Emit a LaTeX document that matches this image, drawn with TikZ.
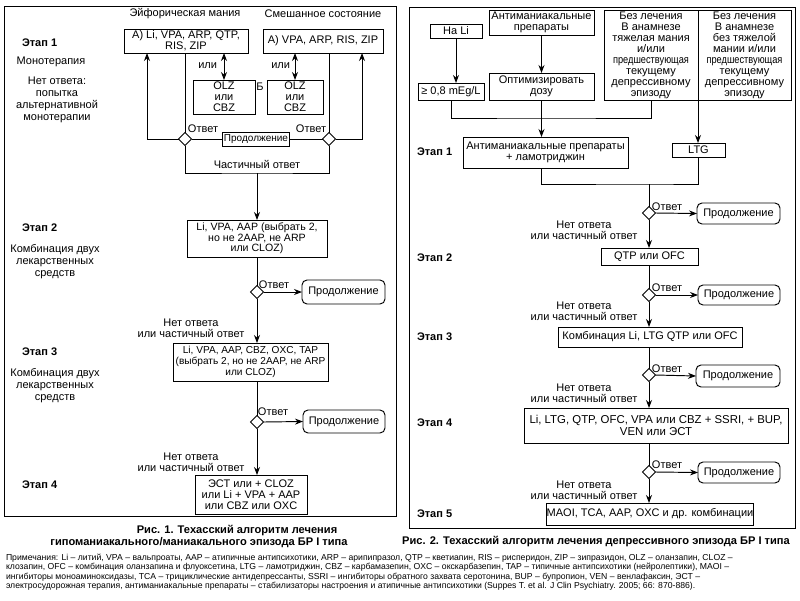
\documentclass[tikz,border=0pt]{standalone}
\usepackage{fontspec}
\setmainfont{Liberation Sans}
\usepackage{graphicx}
\usetikzlibrary{arrows.meta,shapes.geometric,calc}
\begin{document}
\begin{tikzpicture}[x=1pt,y=-1pt,line width=0.95pt,
  every node/.style={inner sep=0pt,outer sep=0pt},
  txt/.style={font=\fontsize{11}{11}\selectfont,align=center},
  box/.style={draw,rectangle,txt},
  cont/.style={draw,rounded corners=5pt,txt},
  dia/.style={draw,diamond,fill=white,minimum width=13pt,minimum height=13pt},
  stagel/.style={font=\bfseries\fontsize{11}{12}\selectfont,anchor=west},
  side/.style={font=\fontsize{11}{12}\selectfont,align=center},
  captxt/.style={font=\bfseries\fontsize{11.1}{11}\selectfont},
  arr/.style={-{Stealth[length=8pt,width=6pt]}},
  darr/.style={{Stealth[length=8pt,width=6pt]}-{Stealth[length=8pt,width=6pt]}},
]
\useasboundingbox[fill=white] (0,0) rectangle (800,600);

% ================= LEFT PANEL =================
\draw (4,6) rectangle (396,516);
\node[txt] (tEu) at (185,14) {Эйфорическая мания};
\node[txt] (tMx) at (323,14) {Смешанное состояние};
\node[box,minimum width=124,minimum height=24] (A1) at (186,41) {А) Li, VPA, ARP, QTP,\\RIS, ZIP};
\node[box,minimum width=120,minimum height=24] (A2) at (323,41) {А) VPA, ARP, RIS, ZIP};
\node[stagel] (e1L) at (22,43) {Этап 1};
\node[side] (mono) at (51,62) {Монотерапия};
\node[side] (noalt) at (57,100) {Нет ответа:\\попытка\\альтернативной\\монотерапии};
\node[box,minimum width=62,minimum height=34] (O1) at (224,97) {OLZ\\или\\CBZ};
\node[box,minimum width=56,minimum height=34] (O2) at (295,97) {OLZ\\или\\CBZ};
\node[txt] (Bl) at (260,87) {Б};
\draw[darr] (A1.south -| O1.north) -- (O1.north);
\draw[darr] (A2.south -| O2.north) -- (O2.north);
\node[txt,anchor=east] (or1) at (217,66) {или};
\node[txt,anchor=east] (or2) at (290,66) {или};

\node[dia] (dL) at (185,139) {};
\node[dia] (dR) at (329,139) {};
\node[box,minimum width=67,minimum height=14,font=\fontsize{10}{10}\selectfont] (c0) at (256,139) {Продолжение};
\node[txt] (ansL) at (203,129) {Ответ};
\node[txt] (ansR) at (311,129) {Ответ};
\draw (A1.south -| dL.north) -- (dL.north);
\draw (A2.south -| dR.north) -- (dR.north);
\draw (dL.east) -- (c0.west);
\draw (c0.east) -- (dR.west);
\coordinate (upL) at (147,139);
\coordinate (upR) at (362,139);
\draw[arr] (dL.west) -- (upL) -- (A1.south -| upL);
\draw[arr] (dR.east) -- (upR) -- (A2.south -| upR);
\coordinate (jL) at (257,173);
\draw (dL.south) |- (jL) -| (dR.south);
\node[txt] (part) at (257,164) {Частичный ответ};

\node[box,minimum width=140,minimum height=37,font=\fontsize{10.6}{10.6}\selectfont] (S2L) at (257,238.5) {Li, VPA, AAP (выбрать 2,\\но не 2AAP, не ARP\\или CLOZ)};
\draw[arr] (jL) -- (S2L.north);
\node[stagel] (e2L) at (22,228) {Этап 2};
\node[side] (comb2) at (55,262) {Комбинация двух\\лекарственных\\средств};
\node[dia] (d2L) at (257,292) {};
\draw (S2L.south) -- (d2L.north);
\node[txt] (ans2L) at (274,285) {Ответ};
\node[cont,minimum width=83,minimum height=24] (c2L) at (343.5,292) {Продолжение};
\draw[arr] (d2L.east) -- (c2L.west);
\node[txt] (nr2L) at (191,328) {Нет ответа\\или частичный ответ};

\node[box,minimum width=155,minimum height=38,font=\fontsize{10.1}{11}\selectfont] (S3L) at (250.5,362) {Li, VPA, AAP, CBZ, OXC, TAP\\(выбрать 2, но не 2AAP, не ARP\\или CLOZ)};
\draw[arr] (d2L.south) -- (S3L.north -| d2L.south);
\node[stagel] (e3L) at (22,352) {Этап 3};
\node[side] (comb3) at (55,386) {Комбинация двух\\лекарственных\\средств};
\node[dia] (d3L) at (257,422) {};
\draw (S3L.south -| d3L.north) -- (d3L.north);
\node[txt] (ans3L) at (273,412) {Ответ};
\node[cont,minimum width=82,minimum height=23] (c3L) at (344,421.5) {Продолжение};
\draw[arr] (d3L.east) -- (c3L.west);
\node[txt] (nr3L) at (191,462) {Нет ответа\\или частичный ответ};

\node[box,minimum width=112,minimum height=39] (S4L) at (251,494.5) {ЭСТ или + CLOZ\\или Li + VPA + AAP\\или CBZ или OXC};
\draw[arr] (d3L.south) -- (S4L.north -| d3L.south);
\node[stagel] (e4L) at (22,485) {Этап 4};

\node[captxt] (capL1) at (237,531) {Рис. 1. Техасский алгоритм лечения};
\node[captxt] (capL2) at (199,543) {гипоманиакального/маниакального эпизода БР I типа};

% ================= RIGHT PANEL =================
\draw (409,7) rectangle (795,528);
\node[box,minimum width=52,minimum height=14] (NaLi) at (456,31) {На Li};
\node[box,minimum width=105,minimum height=25] (Anti) at (541.5,22.5) {Антиманиакальные\\препараты};
\node[box,minimum width=105,minimum height=27] (Opt) at (541.5,86.5) {Оптимизировать\\дозу};
\node[box,minimum width=66,minimum height=17] (Li08) at (451,91.5) {≥ 0,8 mEg/L};
\node[box,minimum width=94,minimum height=90] (N1) at (651,55) {Без лечения\\В анамнезе\\тяжелая мания\\и/или\\\scalebox{0.84}[1]{предшествующая}\\текущему\\депрессивному\\эпизоду};
\node[box,minimum width=93,minimum height=90] (N2) at (744.5,55) {Без лечения\\В анамнезе\\без тяжелой\\мании и/или\\\scalebox{0.84}[1]{предшествующая}\\текущему\\депрессивному\\эпизоду};
\draw[arr] (NaLi.south) -- (Li08.north -| NaLi.south);
\draw[arr] (Anti.south) -- (Opt.north);

\node[box,minimum width=165,minimum height=31] (S1a) at (545.5,152.5) {Антиманиакальные препараты\\+ ламотриджин};
\node[box,minimum width=53,minimum height=14] (LTG) at (698.5,150) {LTG};
\node[stagel] (e1R) at (417,152) {Этап 1};
\coordinate (j1) at (541.5,118);
\draw (Li08.south) |- (j1) -| (N1.south);
\draw[arr] (Opt.south) -- (S1a.north -| Opt.south);
\draw[arr] (N1.south east) -- (LTG.north -| N1.south east);
\coordinate (j2) at (649,184);
\draw (S1a.south -| Opt.south) |- (j2) -| (LTG.south);

\node[dia] (d1R) at (649,213) {};
\draw (j2) -- (d1R.north);
\node[txt] (ans1R) at (667,207) {Ответ};
\node[cont,minimum width=83,minimum height=21] (c1R) at (738.5,213.5) {Продолжение};
\draw[arr] (d1R.east) -- (c1R.west);
\node[txt] (nr1R) at (584,230) {Нет ответа\\или частичный ответ};

\node[box,minimum width=97,minimum height=17] (S2R) at (649.5,256.5) {QTP или OFC};
\draw[arr] (d1R.south) -- (S2R.north -| d1R.south);
\node[stagel] (e2R) at (417,258) {Этап 2};
\node[dia] (d2R) at (649,295) {};
\draw (S2R.south -| d2R.north) -- (d2R.north);
\node[txt] (ans2R) at (667,288) {Ответ};
\node[cont,minimum width=82,minimum height=20] (c2R) at (739,295) {Продолжение};
\draw[arr] (d2R.east) -- (c2R.west);
\node[txt] (nr2R) at (584,311.5) {Нет ответа\\или частичный ответ};

\node[box,minimum width=184,minimum height=20] (S3R) at (650,337) {Комбинация Li, LTG QTP или OFC};
\draw[arr] (d2R.south) -- (S3R.north -| d2R.south);
\node[stagel] (e3R) at (417,337) {Этап 3};
\node[dia] (d3R) at (649,375) {};
\draw (S3R.south -| d3R.north) -- (d3R.north);
\node[txt] (ans3R) at (667,369) {Ответ};
\node[cont,minimum width=84,minimum height=22] (c3R) at (738,376) {Продолжение};
\draw[arr] (d3R.east) -- (c3R.west);
\node[txt] (nr3R) at (584,393) {Нет ответа\\или частичный ответ};

\node[box,minimum width=264,minimum height=35,font=\fontsize{11.4}{12}\selectfont] (S4R) at (656,425.5) {Li, LTG, QTP, OFC, VPA или CBZ + SSRI, + BUP,\\VEN или ЭСТ};
\draw[arr] (d3R.south) -- (S4R.north -| d3R.south);
\node[stagel] (e4R) at (417,423) {Этап 4};
\node[dia] (d4R) at (649,472) {};
\draw (S4R.south -| d4R.north) -- (d4R.north);
\node[txt] (ans4R) at (667,465) {Ответ};
\node[cont,minimum width=82,minimum height=21] (c4R) at (739,472.5) {Продолжение};
\draw[arr] (d4R.east) -- (c4R.west);
\node[txt] (nr4R) at (584,490) {Нет ответа\\или частичный ответ};

\node[box,minimum width=200,minimum height=22] (S5R) at (650,514) {MAOI, TCA, AAP, OXC и др. комбинации};
\draw[arr] (d4R.south) -- (S5R.north -| d4R.south);
\node[stagel] (e5R) at (417,514) {Этап 5};

\node[captxt] (capR) at (596,542) {Рис. 2. Техасский алгоритм лечения депрессивного эпизода БР I типа};

% ================= NOTES =================
\node[anchor=north west,align=left,font=\fontsize{8.65}{9.5}\selectfont] (notes) at (6,554) {Примечания: Li – литий, VPA – вальпроаты, AAP – атипичные антипсихотики, ARP – арипипразол, QTP – кветиапин, RIS – рисперидон, ZIP – зипразидон, OLZ – оланзапин, CLOZ –\\клозапин, OFC – комбинация оланзапина и флуоксетина, LTG – ламотриджин, CBZ – карбамазепин, OXC – окскарбазепин, TAP – типичные антипсихотики (нейролептики), MAOI –\\ингибиторы моноаминоксидазы, TCA – трициклические антидепрессанты, SSRI – ингибиторы обратного захвата серотонина, BUP – бупропион, VEN – венлафаксин, ЭСТ –\\электросудорожная терапия, антиманиакальные препараты – стабилизаторы настроения и атипичные антипсихотики (Suppes T. et al. J Clin Psychiatry. 2005; 66: 870-886).};
\end{tikzpicture}
\end{document}
